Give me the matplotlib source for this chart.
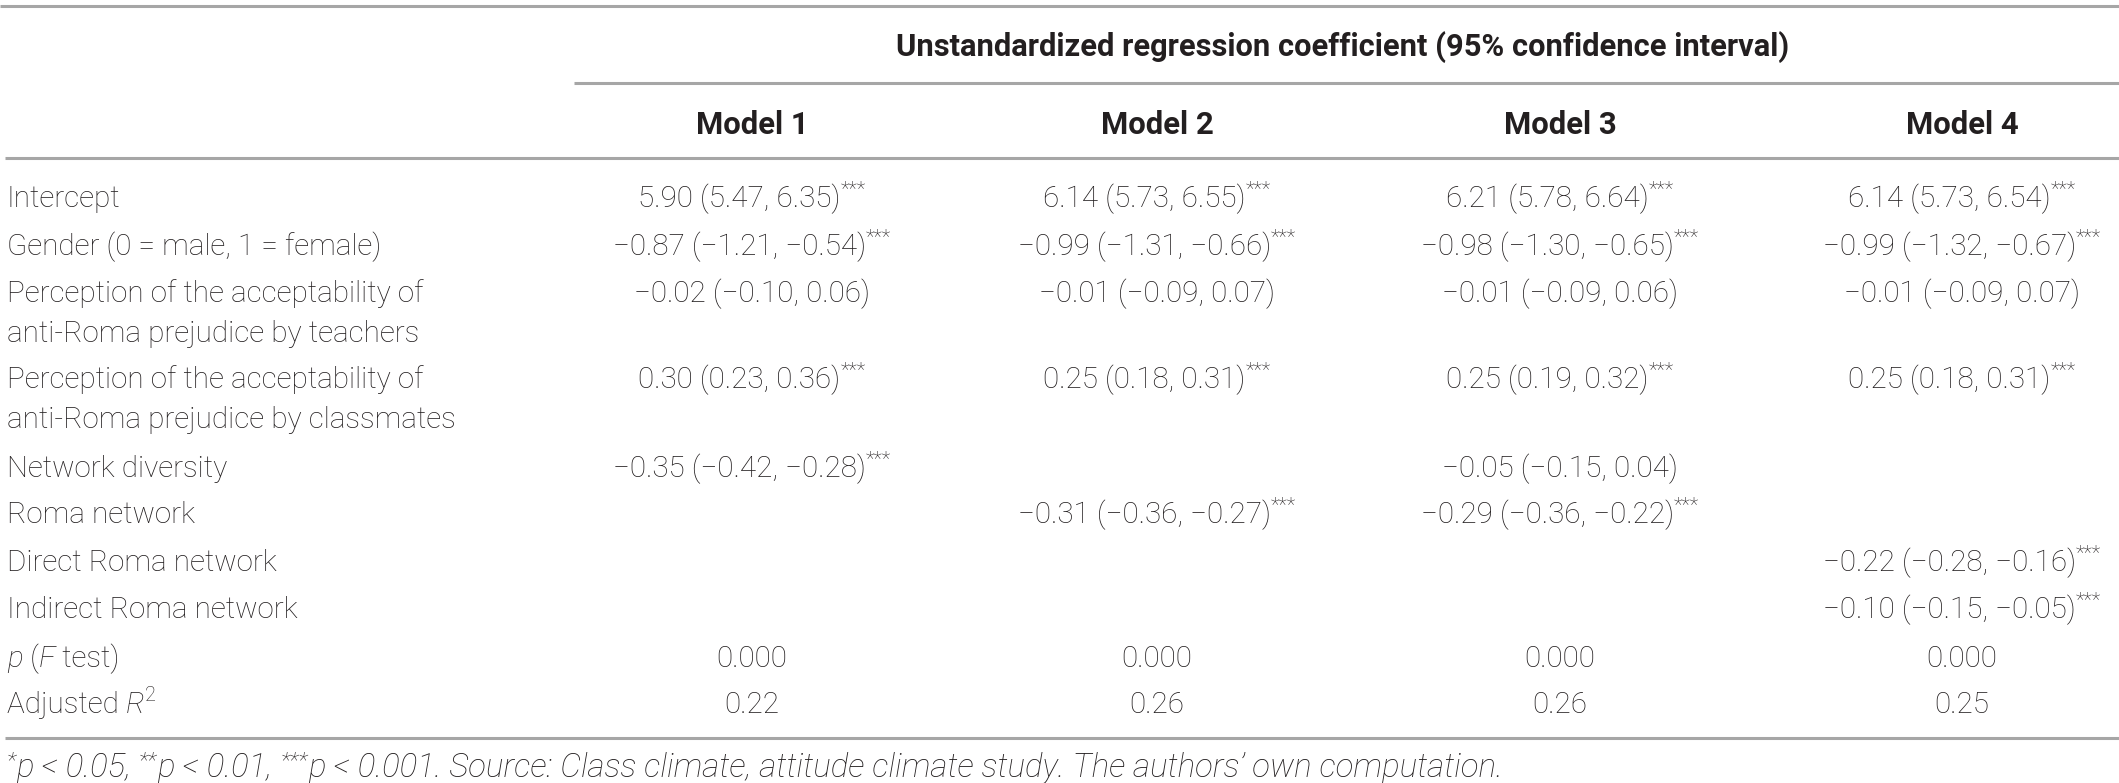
import matplotlib
matplotlib.use("Agg")
import matplotlib.pyplot as plt
from matplotlib import font_manager as fm

# ---------------- data ----------------
span_header = "Unstandardized regression coefficient (95% confidence interval)"
model_names = ["Model 1", "Model 2", "Model 3", "Model 4"]
row_labels = [
    ["Intercept"],
    ["Gender (0 = male, 1 = female)"],
    ["Perception of the acceptability of", "anti-Roma prejudice by teachers"],
    ["Perception of the acceptability of", "anti-Roma prejudice by classmates"],
    ["Network diversity"],
    ["Roma network"],
    ["Direct Roma network"],
    ["Indirect Roma network"],
]
# (estimate, lower, upper, significance) ; None = variable not in model
model1 = [(5.90, 5.47, 6.35, "***"), (-0.87, -1.21, -0.54, "***"), (-0.02, -0.10, 0.06, ""),
          (0.30, 0.23, 0.36, "***"), (-0.35, -0.42, -0.28, "***"), None, None, None]
model2 = [(6.14, 5.73, 6.55, "***"), (-0.99, -1.31, -0.66, "***"), (-0.01, -0.09, 0.07, ""),
          (0.25, 0.18, 0.31, "***"), None, (-0.31, -0.36, -0.27, "***"), None, None]
model3 = [(6.21, 5.78, 6.64, "***"), (-0.98, -1.30, -0.65, "***"), (-0.01, -0.09, 0.06, ""),
          (0.25, 0.19, 0.32, "***"), (-0.05, -0.15, 0.04, ""), (-0.29, -0.36, -0.22, "***"), None, None]
model4 = [(6.14, 5.73, 6.54, "***"), (-0.99, -1.32, -0.67, "***"), (-0.01, -0.09, 0.07, ""),
          (0.25, 0.18, 0.31, "***"), None, None, (-0.22, -0.28, -0.16, "***"), (-0.10, -0.15, -0.05, "***")]
models = [model1, model2, model3, model4]
p_ftest = ["0.000", "0.000", "0.000", "0.000"]
adj_r2 = [0.22, 0.26, 0.26, 0.25]
footnote_runs = [("*", True), ("p < 0.05, ", False), ("**", True), ("p < 0.01, ", False), ("***", True),
                 ("p < 0.001. Source: Class climate, attitude climate study. The authors\u2019 own computation.", False)]

# ---------------- layout ----------------
W, H, DPI = 2119, 783, 100
TXT = "#231f20"
LINE = "#a6a6a6"
col_x = [752, 1157, 1560, 1962]
label_x = 7
row_y = [196, 244, 291, 377, 466, 512, 560, 607]
line_gap = 40
p_y, r2_y = 656, 702
foot_y = 765
SUP = 0.68

names = {(f.name, f.style, str(f.weight)) for f in fm.fontManager.ttflist}
def has(name, style, weights):
    return any(n == name and s == style and w in weights for n, s, w in names)
if has("Roboto", "normal", {"300", "light"}):
    FAM, WREG = "Roboto", "light"
else:
    FAM, WREG = "Liberation Sans", "normal"

fig = plt.figure(figsize=(W / DPI, H / DPI), dpi=DPI)
ax = fig.add_axes([0, 0, 1, 1])
ax.set_xlim(0, W)
ax.set_ylim(H, 0)
ax.axis("off")
fig.canvas.draw()
renderer = fig.canvas.get_renderer()

def width(s, **kw):
    t1 = ax.text(0, 0, "|" + s + "|", family=FAM, **kw)
    t2 = ax.text(0, 0, "||", family=FAM, **kw)
    w = t1.get_window_extent(renderer).width - t2.get_window_extent(renderer).width
    t1.remove(); t2.remove()
    return w

def fit(s, target, **kw):
    return 20 * target / width(s, fontsize=20, **kw)

FS = fit("Gender (0 = male, 1 = female)", 375, weight=WREG)
FSB = fit(span_header, 890, weight="bold")
FSM = fit("Model 1", 113, weight="bold")

def prep(runs, size):
    items = []
    for s, kw in runs:
        kw = dict(kw)
        sup = kw.pop("sup", False)
        fs = size * (SUP if sup else 1.0)
        kw.setdefault("weight", WREG)
        w = width(s, fontsize=fs, **kw)
        items.append((s, fs, kw, sup, w))
    return items

def draw_runs(x, yc, runs, ha="left", size=None, raise_frac=0.40):
    size = size or FS
    items = prep(runs, size)
    total = sum(i[4] for i in items)
    x0 = x - total / 2 if ha == "center" else x
    base = yc + 0.36 * size * 1.39
    for s, fs, kw, sup, w in items:
        dy = raise_frac * size * 1.39 if sup else 0
        ax.text(x0, base - dy, s, family=FAM, fontsize=fs, color=TXT, va="baseline", ha="left", **kw)
        x0 += w

def fmt(v):
    return f"{v:.2f}".replace("-", "\u2212")

# lines
for x0, y in [(0, 6), (574, 83), (5, 158), (5, 738)]:
    ax.plot([x0, W], [y, y], color=LINE, lw=2.2, solid_capstyle="butt")

# headers
draw_runs(1343, 45, [(span_header, {"weight": "bold"})], ha="center", size=FSB)
for cx, m in zip(col_x, model_names):
    draw_runs(cx, 123, [(m, {"weight": "bold"})], ha="center", size=FSM)

# body
for i, lab in enumerate(row_labels):
    for j, ln in enumerate(lab):
        draw_runs(label_x, row_y[i] + j * line_gap, [(ln, {})])
    for cx, mod in zip(col_x, models):
        cell = mod[i]
        if cell is None:
            continue
        est, lo, hi, sig = cell
        runs = [(f"{fmt(est)} ({fmt(lo)}, {fmt(hi)})", {})]
        if sig:
            runs.append((sig, {"sup": True}))
        draw_runs(cx, row_y[i], runs, ha="center")

draw_runs(label_x, p_y, [("p", {"style": "italic"}), (" (", {}), ("F", {"style": "italic"}), (" test)", {})])
draw_runs(label_x, r2_y, [("Adjusted ", {}), ("R", {"style": "italic"}), ("2", {"sup": True})])
for cx, pv, r2 in zip(col_x, p_ftest, adj_r2):
    draw_runs(cx, p_y, [(pv, {})], ha="center")
    draw_runs(cx, r2_y, [(f"{r2:.2f}", {})], ha="center")

# footnote (size fitted to its width in the reference)
foot = [(s, {"style": "italic", "sup": sup}) for s, sup in footnote_runs]
w20 = sum(i[4] for i in prep(foot, 20))
FSF = 20 * 1496 / w20
draw_runs(label_x, foot_y, foot, size=FSF, raise_frac=0.30)

fig.savefig("out.png", dpi=DPI, facecolor="white")
